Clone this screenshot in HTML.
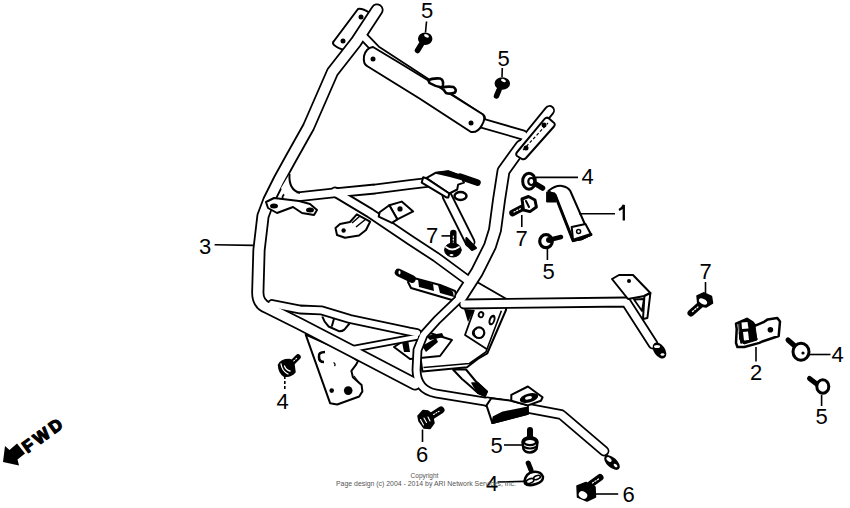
<!DOCTYPE html>
<html><head><meta charset="utf-8">
<style>html,body{margin:0;padding:0;background:#fff;width:850px;height:508px;overflow:hidden}svg{display:block}</style></head><body>
<svg width="850" height="508" viewBox="0 0 850 508">
<g stroke="#000" stroke-width="2" fill="#fff" stroke-linejoin="round">
 <path d="M358,9 Q362,8 370,13 L346,49 Q342,51 334,45 Q332,43 334,41 Z"/>
 <!-- left lower plate -->
 <path d="M305.7,334.7 L330.1,403.2 L337.2,404.5 L359.2,396.5 L362.4,391.4 L361.6,385 L352.9,377.2 L351.4,370.9 L356.1,364.6 L358,361 L345,352 Z"/>
 <path d="M354,376 L360,384" fill="none" stroke-width="1.2"/>
 <!-- tray -->
 <path d="M477,282 L506.5,299 L506,310 L487.2,353.5 L477.8,359 L467,367.3 L422.4,371.5 L418,340 L440,318 L460,300 Z" />
 <path d="M501.4,310.7 L485.9,352 L469.4,363.5 L423.5,367.5" fill="none" stroke-width="1.6"/>
 <path d="M474,310 L465,335 L487,349.3" fill="none" stroke-width="1.8"/>
 <path d="M464,309 L474,310 L468,322 Z" fill="#000" stroke="none"/>
 <!-- plate under brace -->
 <path d="M394,347 L410,359 L440,356 L452,340 L430,333 L405,340 Z"/>
 <!-- strap left of U tube -->
 <path d="M410,277 L440,285 L455,291 L457,298 L452,300 L411,288 L408,282 Z"/>
 <path d="M398.5,272.5 L412,279" stroke-width="7.5" stroke-linecap="round"/>
 <!-- tray bottom rod -->
 <path d="M453,369.5 L466,369.5 Q473,378 475.5,381 L487,391.5 L485,396 L478,393 Q468,384 462,379 Z" stroke-width="2"/>
 <path d="M472,383 L478,383 L487,391.5 L485,396 L478,393 Z" fill="#000" stroke-width="1.5"/>
</g>
<g fill="#000" stroke="none">
 <path d="M418,279 L433,284 L434,291 L419,287 Z"/>
 <path d="M438,285 Q446,285 453,292 L454,297 L440,293 Z"/>
 <ellipse cx="399.5" cy="272.5" rx="1" ry="2" fill="#fff"/>
 <path d="M402,342 L408,339 L410,352 L404,352 Z"/>
 <path d="M422,346 L436,338 L438,342 L426,352 Z"/>
 <path d="M426,336 L442,333 L444,337 L430,340 Z"/>
 <ellipse cx="481" cy="314.6" rx="3.2" ry="3.6" transform="rotate(20 481 314.6)"/><ellipse cx="492" cy="320" rx="3.2" ry="5.5" transform="rotate(20 492 320)"/><ellipse cx="481" cy="314.8" rx="1.4" ry="1.8" fill="#fff"/><ellipse cx="492" cy="320.3" rx="1.3" ry="3.2" transform="rotate(20 492 320.3)" fill="#fff"/>
 <path d="M325,352 Q318,352 319,357 Q319,362 324,362" fill="none" stroke="#000" stroke-width="2.6"/><path d="M333.5,362.5 Q336,364 334.5,366" fill="none" stroke="#000" stroke-width="1.3"/>
 <circle cx="331.7" cy="390.6" r="2.3"/><circle cx="348.2" cy="390.6" r="4.3"/>
</g>
<circle cx="479" cy="332.7" r="5.3" fill="#fff" stroke="#000" stroke-width="2.2"/><path d="M476,337 A4,4 0 0 1 477,329" fill="none" stroke="#000" stroke-width="1.2"/>
<g fill="none" stroke-linejoin="round" stroke-linecap="round"><g stroke="#000"><path d="M377,10 L356,42 L332.5,72 L308.5,127 L290,160 L279,180 L269,200 L263,216 L259,250 L257.8,292 Q257.5,304 268,308 L300,324 L350,350 L415,384" stroke-width="13.10"/><path d="M272,304 L300,309.5 L321,310.3 L350,319 L409,331.5 L417,333" stroke-width="9.80"/><path d="M549.5,110.5 L532,132 L521.6,146" stroke-width="10.80"/><path d="M521.6,146 L515,155 L503.5,171 L499,200 L495,230 L490,246 L477,272 L461,297" stroke-width="13.80"/><path d="M463,295 L437,320 L423.5,335 L417.5,350 L416.5,370 Q417,390 436,393.5 L488,402" stroke-width="9.80"/><path d="M488,402 L529,408.5 L561,414.5 L563,416 L604,451" stroke-width="10.80"/><path d="M362,35 L376,49.5 Q425,81.5 481,118" stroke-width="9.80"/><path d="M478,122 L523,135" stroke-width="10.80"/><path d="M287,198 L333,193 L375,189 L410,184.5 L440,181" stroke-width="10.80"/><path d="M335,192 L370,213 L410,240 L436,257 L470,282" stroke-width="10.80"/><path d="M447,196 L470,242" stroke-width="10.80"/><path d="M464,304 L626,302 L653,344" stroke-width="10.80"/><path d="M352,349 L416,337" stroke-width="7.80"/></g><g stroke="#fff"><path d="M377,10 L356,42 L332.5,72 L308.5,127 L290,160 L279,180 L269,200 L263,216 L259,250 L257.8,292 Q257.5,304 268,308 L300,324 L350,350 L415,384" stroke-width="9.50"/><path d="M272,304 L300,309.5 L321,310.3 L350,319 L409,331.5 L417,333" stroke-width="6.20"/><path d="M549.5,110.5 L532,132 L521.6,146" stroke-width="7.20"/><path d="M521.6,146 L515,155 L503.5,171 L499,200 L495,230 L490,246 L477,272 L461,297" stroke-width="10.20"/><path d="M463,295 L437,320 L423.5,335 L417.5,350 L416.5,370 Q417,390 436,393.5 L488,402" stroke-width="6.20"/><path d="M488,402 L529,408.5 L561,414.5 L563,416 L604,451" stroke-width="7.20"/><path d="M362,35 L376,49.5 Q425,81.5 481,118" stroke-width="6.20"/><path d="M478,122 L523,135" stroke-width="7.20"/><path d="M287,198 L333,193 L375,189 L410,184.5 L440,181" stroke-width="7.20"/><path d="M335,192 L370,213 L410,240 L436,257 L470,282" stroke-width="7.20"/><path d="M447,196 L470,242" stroke-width="7.20"/><path d="M464,304 L626,302 L653,344" stroke-width="7.20"/><path d="M352,349 L416,337" stroke-width="4.20"/></g></g>
<g stroke="#000" stroke-width="2" fill="#fff" stroke-linejoin="round">
 <path d="M373,47 Q425,78 483,114.5 Q486,118 482,125 Q478,133 471,132 Q420,98 367,66 Q363,64 364,56 Q366,48 373,47 Z"/>
 <path d="M518,151 Q515,154 517,156 L522,159 Q524,160 526,158 L554,126.5 Q556,124 553,122 L549,118.5 Q546.5,116.5 544.5,119 Z"/>
 <path d="M523,150 L548,123" fill="none" stroke-width="1.2" stroke-dasharray="3,2"/>
 <path d="M322.3,316.5 Q324,322 328.6,326.5 L338.9,331.2 Q342,331.5 344.4,329.6 L349.5,323.5 M334.1,318.3 L331.8,326.5" fill="none" stroke-width="2"/>
 <!-- T8 bracket -->
 <path d="M612,279 L619,275 L633,275 L650.4,293 L644.4,296 L628,299 Z"/>
 <path d="M644.4,296 L650.4,293 L647.4,318 L643,319 Z"/>
 <path d="M634,299.5 L644,299 L642,311 Z" stroke-width="1.8"/>
 <path d="M389.3,205.2 L401.7,201.6 L413.2,211.4 L397.3,219.3 Z"/>
 <path d="M379.6,212.2 L389.3,205.2 L397.3,219.3 L392,222.9 L378.7,216.7 Z"/>
 <path d="M266,202 L274,198 L299,201 L310,204 L317,210 L314,215 L302,213 L293,207 L277,213 L268,208 Z"/>
 <path d="M356.8,214.3 L370.1,221.7 L366,230 L359,235.5 L345,237.8 L337,235 L335.5,228 L340,224 L350,222 Z"/>
 <path d="M352,223 L360,216 M356,227 L366,219" fill="none" stroke-width="1.5"/>
 <path d="M289.5,174 Q288.5,190 300,193 L285,196 L281,188 Z" stroke="none"/>
 <path d="M289.5,174 Q288.5,190 300,193" fill="none"/>
 <!-- crossbar bracket -->
 <ellipse cx="460.5" cy="196" rx="6" ry="4" stroke-width="2.5"/>
 <path d="M460.1,176.7 L477.5,182.6" stroke-width="6.5" stroke-linecap="round"/>
 <path d="M435.5,172.8 L448.3,171.3 L460.1,175.7 L464,182.6 L458.1,184.6 L457.2,189.5 L449.3,193.5 L426.2,178.2 Z"/>
 <path d="M423.2,177.2 L426.2,178.2 L449.3,193.5 L448.3,197.4 L446.3,197.4 L421.7,182.6 Z"/>
 <path d="M437,173 L448,171.5 L460,175.7 L461,179 L450,176 Z" fill="#000"/>
 <!-- clamp -->
 <path d="M486.5,405.4 L492.4,423.1 L527.9,413.7 L527.9,405.4 L511.3,400.7 L491.3,398.3 Z"/>
 <path d="M492.4,423.1 L527.9,413.7 L526.7,407.8 L503,412.5 L493.6,417.2 Z" fill="#000"/>
 <path d="M511.3,394.8 L527.9,386.5 L542.6,397.2 L540.9,400.7 L527.9,405.4 L511.3,400.7 Z"/>
 <ellipse cx="529" cy="398" rx="9.5" ry="4.5" transform="rotate(-15 529 398)" fill="#000" stroke="none"/>
 <ellipse cx="528.5" cy="397.8" rx="3.5" ry="1.6" transform="rotate(-15 528.5 397.8)" fill="#fff" stroke="none"/>
 <!-- strut end -->
 <path d="M466.4,238 L476,248 L472,250 L466,244 Z" fill="#000"/>
 <!-- lower tube end tab -->
 <ellipse cx="612" cy="462.5" rx="9.5" ry="5" transform="rotate(42 612 462.5)" fill="#000" stroke="none"/><ellipse cx="609" cy="459.5" rx="3" ry="1.8" transform="rotate(42 609 459.5)" fill="#fff" stroke="none"/><ellipse cx="615.5" cy="465.5" rx="2.2" ry="1.3" transform="rotate(42 615.5 465.5)" fill="#fff" stroke="none"/>
 <!-- T8 end -->
 <ellipse cx="659.5" cy="350.5" rx="9" ry="5.5" transform="rotate(55 659.5 350.5)" fill="#000" stroke="none"/><ellipse cx="657" cy="346.5" rx="3" ry="1.5" fill="#fff" stroke="none"/><ellipse cx="662.5" cy="354.5" rx="2" ry="1.2" fill="#fff" stroke="none"/>
</g>
<g fill="#000">
  <circle cx="361" cy="17" r="2.5"/><circle cx="343" cy="41" r="2.5"/>
 <circle cx="373" cy="59" r="2.5"/><circle cx="471" cy="123" r="2.5"/>
 <circle cx="526" cy="148" r="2.5"/><circle cx="544" cy="125" r="2.5"/>
 <circle cx="629" cy="281" r="2"/><circle cx="400" cy="208.9" r="2.6"/>
 <ellipse cx="274" cy="206" rx="4" ry="2.5"/><ellipse cx="310" cy="210" rx="4" ry="2.5"/>
 <circle cx="343.6" cy="230.5" r="2.2"/>
</g>

<g stroke="#000" stroke-linejoin="round" stroke-linecap="round">
<!-- bolt 5 top -->
<path d="M421.5,44 L417.5,50.5" stroke-width="5.5"/>
<ellipse cx="425.2" cy="38.8" rx="6.5" ry="5.5" fill="#000" stroke-width="1.5"/>
<ellipse cx="426.5" cy="35.8" rx="2.6" ry="1.5" fill="#fff" stroke="none" transform="rotate(25 426.5 35.8)"/>
<!-- bolt 5 second -->
<path d="M499,90 L496.5,96" stroke-width="5.5"/>
<ellipse cx="502.3" cy="83.6" rx="7" ry="5.5" fill="#000" stroke-width="1.5"/>
<ellipse cx="503.5" cy="80.5" rx="2.6" ry="1.5" fill="#fff" stroke="none" transform="rotate(25 503.5 80.5)"/>
<!-- clip on strap -->
<path d="M428.5,80.5 Q432,78 440,78.5 Q443.5,79.5 443,84.5 L442.5,87.5 Q435,86.5 429.5,83 Z" fill="#fff" stroke-width="2.6"/><path d="M442,87.5 Q448,86 453.5,87 Q457,89.5 455,92.5 Q450,94.5 446,93 Z" fill="#fff" stroke-width="2.6"/>
<!-- bolt 4 upper -->
<path d="M534,183 L542.5,188" stroke-width="5.5"/>
<ellipse cx="529" cy="181.2" rx="6.3" ry="8" fill="#fff" stroke-width="3"/>
<ellipse cx="531.3" cy="181.5" rx="3" ry="3.5" fill="#fff" stroke-width="2.2"/>
<!-- part 1 -->
<path d="M548.3,191 Q556,185 562,186 Q568,187 570.3,191 L585.5,225.5 L591,234.5 L581.4,239.3 L573.1,240.7 L555.2,195.2 Z" fill="#fff" stroke-width="2"/>
<path d="M555.2,195.2 L573.1,240.7" stroke-width="3"/>
<path d="M547,192 L555,193 L556,202 L547,202 Z" fill="#000" stroke-width="1"/>
<path d="M571.7,227 L585.5,224 L591,234.5 L581.4,239.3 L573.1,240.7 Z" fill="#fff" stroke-width="2"/>
<path d="M574,240 L591,234.5" stroke-width="3"/>
<circle cx="578.6" cy="231.5" r="2" fill="#fff" stroke-width="1.5"/>
<!-- bolt 7 -->
<path d="M512.5,213 L522,208" stroke-width="6.5"/>
<path d="M514,212 L521,208.5" stroke="#fff" stroke-width="1.2" stroke-dasharray="1.2,1.8"/>
<path d="M522,199 L528.5,196.5 L535,200 L536.4,207 L530,211.6 L523.5,210 Z" fill="#fff" stroke-width="3"/>
<path d="M526,201 L529,207" stroke-width="2"/>
<!-- bolt 5 small -->
<path d="M551,239.5 L561,237" stroke-width="4.5"/>
<ellipse cx="546" cy="241.2" rx="6.3" ry="6.5" fill="#fff" stroke-width="3.2"/>
<ellipse cx="549.5" cy="240" rx="3.5" ry="3" fill="#000" stroke="none"/>
<!-- bolt 7 left -->
<path d="M453.3,233 L453.3,245" stroke-width="6.5"/>
<path d="M453.3,236 L453.3,244" stroke="#fff" stroke-width="1.2" stroke-dasharray="1.2,1.8"/>
<ellipse cx="452.9" cy="250" rx="8.3" ry="7" fill="#000" stroke-width="1"/>
<path d="M446,247 Q452,252 459,247" stroke="#fff" stroke-width="1.8" fill="none"/>
<ellipse cx="451.5" cy="255" rx="2" ry="1" fill="#fff" stroke="none"/>
<!-- bolt 7 right -->
<path d="M691,313 L700,305" stroke-width="7"/>
<path d="M692.5,311.5 L698.5,306.5" stroke="#fff" stroke-width="1.3" stroke-dasharray="1.3,1.7"/>
<path d="M697,296 L704,292.8 L711.5,296.5 L712.5,303 L706,307 L698,305.5 Z" fill="#000" stroke-width="1.5"/>
<ellipse cx="703" cy="301.5" rx="4.5" ry="2.5" transform="rotate(30 703 301.5)" fill="#fff" stroke="none"/>
<!-- part 2 -->
<path d="M736,323.6 L747,318.8 L752.5,322.2 L755.3,325.7 L763.5,322.2 L767.7,319.4 L777.3,318 L780,321.5 L778.7,336 L762.2,341.5 L759.4,342.9 L744.3,347 L737.4,347 L736,342.9 L736.7,329.1 Z" fill="#fff" stroke-width="2.5"/>
<path d="M739,322 L748,320 L755,326 L757,340 L744,344 L740,340 Z" fill="#000" stroke-width="1"/>
<path d="M741.5,322.5 L747.5,322 L748.5,328.5 L742,329 Z M743,332 L748,331.5 L749,340 L744,340.5 Z" fill="#fff" stroke="none"/>
<path d="M739.5,333 L741,343 L757,339" fill="none" stroke-width="1.5"/>
<circle cx="770.4" cy="329.8" r="2.8" fill="#000" stroke="none"/>
<!-- bolt 4 right -->
<path d="M788,340 L796,347" stroke-width="5"/>
<ellipse cx="801" cy="351.7" rx="8" ry="8.5" fill="#fff" stroke-width="3"/>
<circle cx="803" cy="353" r="1.6" fill="#000" stroke="none"/>
<!-- bolt 5 right -->
<path d="M809.5,378.5 L818,385" stroke-width="5"/>
<ellipse cx="822.8" cy="386.5" rx="6" ry="6.8" fill="#fff" stroke-width="3"/>
<!-- bolt 4 left -->
<path d="M290,365 L298,357" stroke-width="5.5"/>
<path d="M291.5,363 L297,358" stroke="#fff" stroke-width="1.1" stroke-dasharray="1.1,1.8"/>
<path d="M278.5,365 Q281,359.5 289,359.5 Q293,360 294,365 L295,372 Q291,377 284,376 Q279,373 278.5,365 Z" fill="#000" stroke-width="1.5"/>
<path d="M281,364 Q282,371 288,374 M284.5,366 Q286,370 290,371" fill="none" stroke="#fff" stroke-width="1.3"/>
<!-- bolt 6 -->
<path d="M432.5,415.5 L441,410" stroke-width="7"/>
<path d="M433.5,414.5 L439.5,411" stroke="#fff" stroke-width="1.1" stroke-dasharray="1.1,1.6"/>
<path d="M418,416 L423,410.5 L428,411 L432,414 L434,423 L430,428.5 L424,428 L419,421 Z" fill="#000" stroke-width="1.5"/>
<path d="M420.5,419.5 L423.5,425 M424,418 L426.5,422.5 M428,417 L430,421" stroke="#fff" stroke-width="1.1"/>
<!-- bolt 5 bottom -->
<path d="M530,430 L530,440" stroke-width="6"/>
<path d="M522.5,442 Q523,437.5 530,437.5 Q537,437.5 537.5,442 L536.5,449 Q534,452.5 530,452.5 Q525,452.5 523.5,449 Z" fill="#fff" stroke-width="2.5"/>
<ellipse cx="530" cy="442" rx="6" ry="3.2" fill="#fff" stroke-width="2.2"/>
<path d="M524,447 Q530,450 536,447" fill="none" stroke-width="2"/>
<!-- part 4 bottom -->
<path d="M528.2,463 L531,470" stroke-width="5"/>
<path d="M524.5,481 Q526,473 533,472 Q541,471 543,477 Q543,482 536,484 Q528,486.5 525,483.5 Z" fill="#fff" stroke-width="2.5"/>
<ellipse cx="530" cy="481" rx="4" ry="2.2" transform="rotate(-20 530 481)" fill="#fff" stroke-width="1.6"/>
<ellipse cx="537" cy="477.5" rx="3.5" ry="1.8" transform="rotate(-20 537 477.5)" fill="#fff" stroke-width="1.6"/>
<!-- bolt 6 bottom -->
<path d="M591,484 L600,477.5" stroke-width="7"/>
<path d="M592.5,483 L598.5,479" stroke="#fff" stroke-width="1.2" stroke-dasharray="1.2,1.8"/>
<path d="M577,486 L586,482.5 L595,487 L595.5,497 L587,501 L577.5,497 Z" fill="#000" stroke-width="1.5"/>
<ellipse cx="583" cy="495" rx="4.5" ry="3.5" fill="#fff" stroke="none" transform="rotate(30 583 495)"/>
</g>
<g font-family="Liberation Sans" font-size="22" fill="#000"><text x="421" y="18">5</text><text x="497.5" y="66">5</text><text x="581.5" y="183.5">4</text><text x="515.5" y="245.5">7</text><text x="542.5" y="278.5">5</text><text x="199" y="254">3</text><text x="426" y="242.5">7</text><text x="699.5" y="279">7</text><text x="750" y="380">2</text><text x="831.5" y="362">4</text><text x="815.5" y="424">5</text><text x="276.5" y="409">4</text><text x="416" y="462">6</text><text x="490.5" y="452.5">5</text><text x="486" y="490.5">4</text><text x="622.5" y="502">6</text></g>
<g stroke="#000" stroke-width="1.6" fill="none">
<path d="M426.5,21.5 L425.5,32.5"/>
<path d="M502.3,68 L502,77"/>
<path d="M536,177.4 L578,177.4"/>
<path d="M579,213.7 L615,213.7"/>
<path d="M619,210 Q622.5,208.5 623.8,205 L623.8,220.5" stroke-width="2.3" stroke-linecap="butt"/>
<path d="M521.8,215 L521.8,227"/>
<path d="M547.4,248 L547.4,260"/>
<path d="M214.6,244.7 L253.4,245.4"/>
<path d="M441.5,235.9 L452.4,235.9"/>
<path d="M705.5,282 L705.5,293"/>
<path d="M756,347 L756,361.5"/>
<path d="M807.5,354.5 L830.5,354.5"/>
<path d="M821.6,395 L821.6,406"/>
<path d="M284.8,376 L284.8,391" stroke-dasharray="3,2"/>
<path d="M422.5,429.5 L422.5,442"/>
<path d="M504,445 L523,445"/>
<path d="M497.5,482 L525,481.4"/>
<path d="M595,494 L618.2,494"/>
</g>
<path d="M3,462 L5,446 L9.5,450 L17,443.5 L25,453.5 L17.5,459.5 L19,465.5 Z" fill="#000"/>
<text transform="translate(27.5,453.5) rotate(-36)" font-family="Liberation Sans" font-weight="bold" font-size="17" letter-spacing="3.2" stroke="#000" stroke-width="1.3" stroke-linejoin="round">FWD</text>
<text x="424.5" y="478" font-family="Liberation Sans" font-size="6.5" text-anchor="middle" fill="#555">Copyright</text>
<text x="336" y="486" font-family="Liberation Sans" font-size="6.5" fill="#555" textLength="180" lengthAdjust="spacingAndGlyphs">Page design (c) 2004 - 2014 by ARI Network Services, Inc.</text>
</svg>
</body></html>
